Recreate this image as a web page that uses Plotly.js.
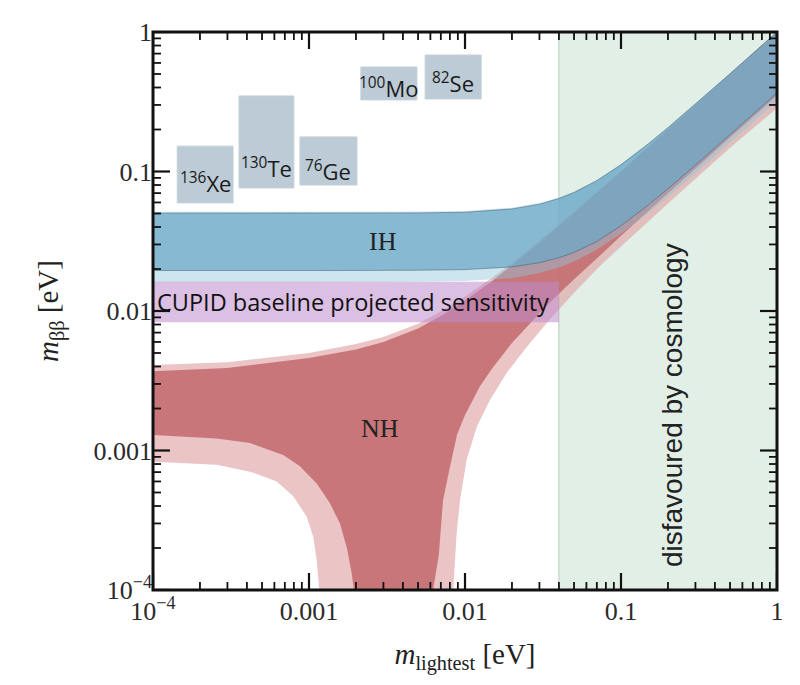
<!DOCTYPE html>
<html>
<head>
<meta charset="utf-8">
<script src="https://cdn.plot.ly/plotly-3.0.1.min.js"></script>
<style>html,body{margin:0;padding:0;background:#fff;}#chart{width:800px;height:685px;}</style>
</head>
<body>
<div id="chart"></div>
<script>
// ---- Data (m_lightest [eV] vs m_bb [eV]) ----
// Normal hierarchy, inner (dark) band
const nhDarkUpperX = [1e-4, 3e-4, 1e-3, 2e-3, 3e-3, 5e-3, 7e-3, 0.01, 0.015, 0.02, 0.03, 0.04, 0.05, 0.07, 0.1, 0.2, 0.5, 1];
const nhDarkUpperY = [0.0037, 0.0039, 0.0046, 0.0053, 0.006, 0.0075, 0.0092, 0.0119, 0.0165, 0.0213, 0.031, 0.0408, 0.0507, 0.0705, 0.1, 0.2, 0.5, 1.0];
const nhDarkLeftX  = [1e-4, 2.56e-4, 4.19e-4, 6.84e-4, 8.75e-4, 1.12e-3, 1.36e-3, 1.58e-3, 1.75e-3, 1.88e-3, 1.94e-3, 2.0e-3];
const nhDarkLeftY  = [0.00129, 0.00122, 0.00113, 0.00093, 0.00077, 0.00058, 0.00042, 0.0003, 0.0002, 0.00013, 1e-4, 1e-6];
const nhDarkRightX = [0.006, 0.00624, 0.0068, 0.00723, 0.008, 0.0089, 0.01, 0.0125, 0.015, 0.02, 0.0273, 0.03, 0.04, 0.05, 0.07, 0.1, 0.2, 0.5, 1];
const nhDarkRightY = [1e-6, 1e-4, 0.00018, 0.00044, 0.00076, 0.0013, 0.0018, 0.0029, 0.0039, 0.0059, 0.0086, 0.0097, 0.0133, 0.0169, 0.0238, 0.0346, 0.0698, 0.175, 0.35];
// Normal hierarchy, outer (light) band
const nhLightUpperY = [0.0041, 0.0043, 0.005, 0.0058, 0.0065, 0.0081, 0.0099, 0.0127, 0.0174, 0.0222, 0.032, 0.0418, 0.0517, 0.0715, 0.101, 0.201, 0.5, 1.0];
const nhLightLeftX  = [1e-4, 2.56e-4, 4.19e-4, 6.21e-4, 7.93e-4, 9.66e-4, 1.066e-3, 1.12e-3, 1.164e-3, 1.19e-3];
const nhLightLeftY  = [0.00083, 0.00079, 0.000705, 0.0006, 0.00047, 0.000336, 0.00024, 0.000164, 1e-4, 1e-6];
const nhLightRightX = [0.0082, 0.00841, 0.00884, 0.00929, 0.01025, 0.0119, 0.01445, 0.0185, 0.0248, 0.0334, 0.05, 0.0733, 0.1, 0.2, 0.5, 1];
const nhLightRightY = [1e-6, 1e-4, 0.000255, 0.00044, 0.00086, 0.00148, 0.0023, 0.0036, 0.0055, 0.0082, 0.0135, 0.021, 0.029, 0.059, 0.148, 0.285];
// Inverted hierarchy
const ihX          = [1e-4, 1e-3, 0.005, 0.01, 0.02, 0.03, 0.04, 0.05, 0.07, 0.1, 0.15, 0.2, 0.3, 0.5, 0.7, 1];
const ihDarkUpper  = [0.0503, 0.0503, 0.0505, 0.051, 0.0539, 0.0583, 0.064, 0.0707, 0.086, 0.1118, 0.1581, 0.2062, 0.3041, 0.5025, 0.7018, 1.0];
const ihDarkLower  = [0.0195, 0.0195, 0.0196, 0.0198, 0.0207, 0.0222, 0.0241, 0.0263, 0.0315, 0.0408, 0.0577, 0.0753, 0.111, 0.1834, 0.256, 0.365];
const ihLightUpper = [0.0515, 0.0515, 0.0517, 0.0522, 0.055, 0.0594, 0.065, 0.0717, 0.087, 0.113, 0.159, 0.207, 0.305, 0.503, 0.702, 1.0];
const ihLightLower = [0.0161, 0.0161, 0.0162, 0.0164, 0.0172, 0.0187, 0.0205, 0.0226, 0.0275, 0.0358, 0.0506, 0.066, 0.0973, 0.161, 0.2246, 0.32];
// CUPID projected sensitivity band
const cupidX = [1e-4, 0.04];
const cupidY = [0.0083, 0.0162];
// Region disfavoured by cosmology
const cosmoX = [0.04, 1];
const cosmoY = [1e-6, 10];
// Isotope limit boxes
const isoSup   = ['136', '130', '76', '100', '82'];
const isoName  = ['Xe', 'Te', 'Ge', 'Mo', 'Se'];
const isoX0    = [1.43e-4, 3.56e-4, 8.75e-4, 2.15e-3, 5.55e-3];
const isoX1    = [3.26e-4, 8.0e-4, 2.03e-3, 4.92e-3, 0.0127];
const isoY0    = [0.0595, 0.0762, 0.080, 0.326, 0.331];
const isoY1    = [0.152, 0.348, 0.177, 0.561, 0.684];
const isoLabelY = [0.084, 0.106, 0.1025, 0.397, 0.438];
// Axis ticks
const tickVals = [1e-4, 1e-3, 1e-2, 1e-1, 1];
const tickText = ['10<sup>\u22124</sup>', '0.001', '0.01', '0.1', '1'];

// ---- Build traces ----
function rect(x, y) { return {x: [x[0], x[1], x[1], x[0], x[0]], y: [y[0], y[0], y[1], y[1], y[0]]}; }
function band(xs, upper, lower) {
  return {x: xs.concat(xs.slice().reverse()), y: upper.concat(lower.slice().reverse())};
}
function nhPoly(ux, uy, rx, ry, lx, ly) {
  return {
    x: ux.concat(rx.slice().reverse(), lx.slice().reverse()),
    y: uy.concat(ry.slice().reverse(), ly.slice().reverse())
  };
}
function poly(p, fill, line) {
  return {type: 'scatter', x: p.x, y: p.y, mode: line ? 'lines' : 'none', fill: 'toself',
          fillcolor: fill, line: line || {width: 0}, hoverinfo: 'skip', showlegend: false};
}

const traces = [];
traces.push(poly(rect(cosmoX, cosmoY), '#e1efe6', {color: '#b7cdbf', width: 1}));
traces.push(poly(nhPoly(nhDarkUpperX, nhLightUpperY, nhLightRightX, nhLightRightY, nhLightLeftX, nhLightLeftY), 'rgba(222,157,160,0.6)'));
traces.push(poly(nhPoly(nhDarkUpperX, nhDarkUpperY, nhDarkRightX, nhDarkRightY, nhDarkLeftX, nhDarkLeftY), 'rgba(196,110,112,0.9)'));
traces.push(poly(band(ihX, ihLightUpper, ihLightLower), 'rgba(144,197,217,0.45)'));
traces.push(poly(band(ihX, ihDarkUpper, ihDarkLower), 'rgba(108,168,199,0.72)', {color: 'rgba(60,90,110,0.5)', width: 1}));
traces.push(poly(rect(cupidX, cupidY), 'rgba(190,140,205,0.55)'));
for (let i = 0; i < isoName.length; i++) {
  traces.push(poly(rect([isoX0[i], isoX1[i]], [isoY0[i], isoY1[i]]), '#bccbd6', {color: '#c4d1da', width: 1}));
}

const L = Math.log10;
const annotations = [];
for (let i = 0; i < isoName.length; i++) {
  annotations.push({xref: 'x', yref: 'y', x: (L(isoX0[i]) + L(isoX1[i])) / 2, y: L(isoLabelY[i]),
    text: '<sup>' + isoSup[i] + '</sup>' + isoName[i], showarrow: false,
    font: {family: 'Open Sans, sans-serif', size: 22, color: '#1a1a1a'}});
}
annotations.push({xref: 'x', yref: 'y', x: -2.526, y: -1.505, text: 'IH', showarrow: false,
  font: {family: 'Liberation Serif, serif', size: 26, color: '#222'}});
annotations.push({xref: 'x', yref: 'y', x: -2.545, y: -2.839, text: 'NH', showarrow: false,
  font: {family: 'Liberation Serif, serif', size: 26, color: '#222'}});
annotations.push({xref: 'x', yref: 'y', x: -3.985, y: -1.935, xanchor: 'left', text: 'CUPID baseline projected sensitivity', showarrow: false,
  font: {family: 'Open Sans, sans-serif', size: 23.5, color: '#111'}});
annotations.push({xref: 'x', yref: 'y', x: -0.673, y: -2.674, text: 'disfavoured by cosmology', textangle: -90, showarrow: false,
  font: {family: 'Liberation Sans, Arial, sans-serif', size: 28, color: '#222'}});

// ---- Frame and tick marks (drawn as shapes, inside the frame, on all four sides) ----
const minorVals = [];
for (let e = -4; e < 0; e++) for (let d = 2; d <= 9; d++) minorVals.push(d * Math.pow(10, e));
const plotW = 800 - 153 - 23, plotH = 685 - 32 - 95;
const shapes = [];
function addTicks(vals, lenPx, width) {
  const fx = lenPx / plotH, fy = lenPx / plotW;
  const line = {color: '#111111', width: width};
  vals.forEach(v => {
    shapes.push({type: 'line', xref: 'x', yref: 'paper', x0: v, x1: v, y0: 0, y1: fx, line: line, layer: 'above'});
    shapes.push({type: 'line', xref: 'x', yref: 'paper', x0: v, x1: v, y0: 1, y1: 1 - fx, line: line, layer: 'above'});
    shapes.push({type: 'line', xref: 'paper', yref: 'y', x0: 0, x1: fy, y0: v, y1: v, line: line, layer: 'above'});
    shapes.push({type: 'line', xref: 'paper', yref: 'y', x0: 1, x1: 1 - fy, y0: v, y1: v, line: line, layer: 'above'});
  });
}
addTicks(tickVals, 17, 2.2);
addTicks(minorVals, 8, 1.8);
shapes.push({type: 'rect', xref: 'paper', yref: 'paper', x0: 0, x1: 1, y0: 0, y1: 1,
             line: {color: '#111111', width: 3}, fillcolor: 'rgba(0,0,0,0)', layer: 'above'});

const tickFont = {family: 'Liberation Serif, serif', size: 26, color: '#2a2a2a'};
const axisBase = {
  type: 'log', range: [-4, 0], tickmode: 'array', tickvals: tickVals, ticktext: tickText,
  ticks: '', showline: false, showgrid: false, zeroline: false, tickfont: tickFont
};

const layout = {
  width: 800, height: 685,
  margin: {l: 153, r: 23, t: 32, b: 95},
  paper_bgcolor: 'white', plot_bgcolor: 'white',
  xaxis: Object.assign({}, axisBase, {
    ticklabelstandoff: 3,
    title: {text: '<i>m</i><sub>lightest</sub> [eV]', standoff: 18,
            font: {family: 'Liberation Serif, serif', size: 29, color: '#222'}}
  }),
  yaxis: Object.assign({}, axisBase, {
    title: {text: '<i>m</i><sub>\u03b2\u03b2</sub> [eV]', standoff: 26,
            font: {family: 'Liberation Serif, serif', size: 29, color: '#222'}}
  }),
  annotations: annotations,
  shapes: shapes,
  showlegend: false
};

Plotly.newPlot('chart', traces, layout, {displayModeBar: false});
</script>
</body>
</html>
